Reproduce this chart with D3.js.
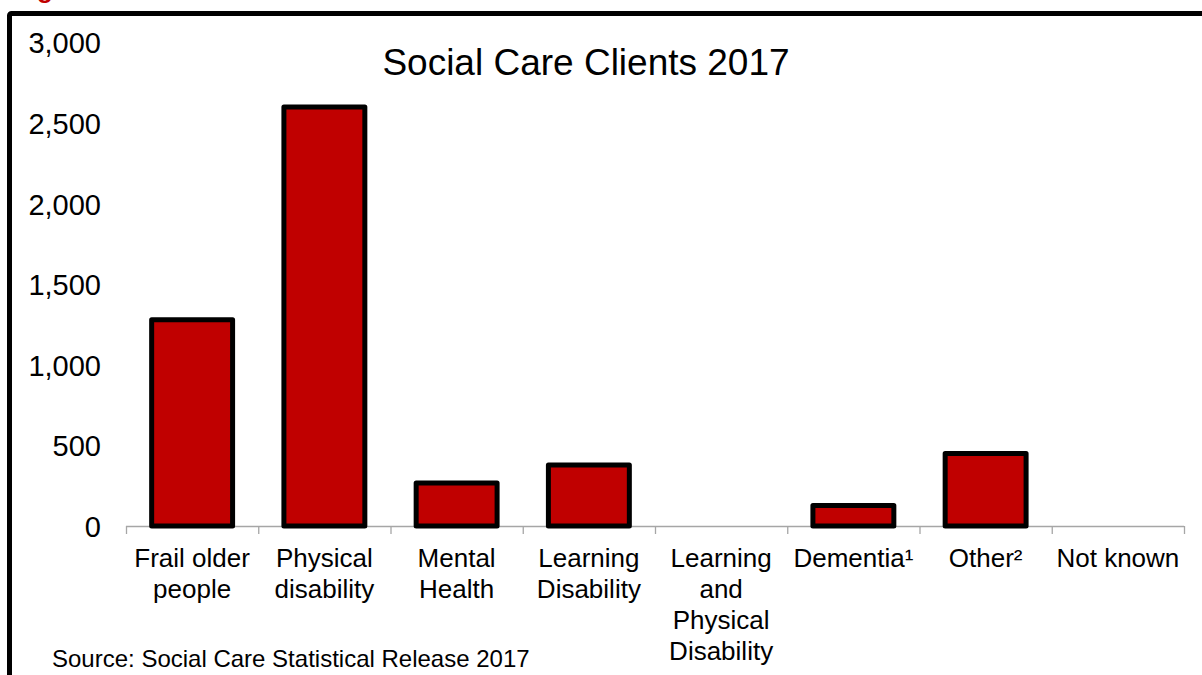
<!DOCTYPE html>
<html>
<head>
<meta charset="utf-8">
<script src="https://cdn.jsdelivr.net/npm/d3@7"></script>
<style>
  html, body { margin: 0; padding: 0; background: #fff; }
  svg { display: block; font-family: "Liberation Sans", Arial, sans-serif; }
</style>
</head>
<body>
<svg id="chart" width="1202" height="675"></svg>
<script>
// Clients by primary client group
const categories = [
  "Frail older people",
  "Physical disability",
  "Mental Health",
  "Learning Disability",
  "Learning and Physical Disability",
  "Dementia\u00B9",
  "Other\u00B2",
  "Not known"
];
const clients = [1280, 2600, 267, 378, 0, 127, 450, 0];
const yTicks = [0, 500, 1000, 1500, 2000, 2500, 3000];

// wrapped x labels
const labelLines = [
  ["Frail older", "people"],
  ["Physical", "disability"],
  ["Mental", "Health"],
  ["Learning", "Disability"],
  ["Learning", "and", "Physical", "Disability"],
  ["Dementia\u00B9"],
  ["Other\u00B2"],
  ["Not known"]
];

const svg = d3.select("#chart");

// frame around the figure (runs off the right and bottom edges)
svg.append("rect")
  .attr("x", 9.5).attr("y", 13.5)
  .attr("width", 1400).attr("height", 900)
  .attr("rx", 2)
  .attr("fill", "none")
  .attr("stroke", "#000")
  .attr("stroke-width", 5);

// figure caption above the frame
svg.append("text")
  .attr("x", 14).attr("y", -2)
  .attr("fill", "#c00000")
  .attr("font-weight", "bold")
  .attr("font-size", 26)
  .text("Figure 9");

const x = d3.scaleBand()
  .domain(categories)
  .range([126, 1184])
  .paddingInner(0.388)
  .paddingOuter(0.194);

const y = d3.scaleLinear()
  .domain([0, 3000])
  .range([526, 42.5]);

// y axis: labels only
const yAxis = svg.append("g")
  .attr("transform", "translate(101,0)")
  .call(d3.axisLeft(y).tickValues(yTicks).tickSize(0).tickPadding(0)
    .tickFormat(d3.format(",")));
yAxis.select(".domain").remove();
yAxis.selectAll("text")
  .attr("font-size", 29)
  .attr("font-family", "Liberation Sans, Arial, sans-serif")
  .attr("fill", "#000")
  .attr("dy", "0.36em");

// x axis: baseline plus tick marks on category boundaries
const xg = svg.append("g");
xg.append("line")
  .attr("x1", x.range()[0]).attr("x2", x.range()[1])
  .attr("y1", y(0) + 0.5).attr("y2", y(0) + 0.5)
  .attr("stroke", "#a6a6a6").attr("stroke-width", 1.3);
const bounds = categories.map(c => x(c) - x.step() * x.paddingOuter())
  .concat([x.range()[1]]);
xg.selectAll("line.tick")
  .data(bounds)
  .join("line")
  .attr("class", "tick")
  .attr("x1", d => d + 0.5).attr("x2", d => d + 0.5)
  .attr("y1", y(0)).attr("y2", y(0) + 8)
  .attr("stroke", "#a6a6a6").attr("stroke-width", 1.3);

// category labels
const lbl = svg.append("g")
  .selectAll("text")
  .data(categories)
  .join("text")
  .attr("x", d => x(d) + x.bandwidth() / 2)
  .attr("y", 567)
  .attr("text-anchor", "middle")
  .attr("font-size", 26)
  .attr("fill", "#000");
lbl.each(function(d, i) {
  d3.select(this).selectAll("tspan")
    .data(labelLines[i])
    .join("tspan")
    .attr("x", x(d) + x.bandwidth() / 2)
    .attr("dy", (t, j) => j === 0 ? 0 : 31)
    .text(t => t);
});

// bars
const data = categories.map((c, i) => ({ c, v: clients[i] })).filter(d => d.v > 0);
svg.append("g")
  .selectAll("rect")
  .data(data)
  .join("rect")
  .attr("x", d => x(d.c))
  .attr("y", d => y(d.v))
  .attr("width", x.bandwidth())
  .attr("height", d => y(0) - y(d.v))
  .attr("fill", "#c00000")
  .attr("stroke", "#000")
  .attr("stroke-width", 5)
  .attr("stroke-linejoin", "round");

// title
svg.append("text")
  .attr("x", 586).attr("y", 75)
  .attr("text-anchor", "middle")
  .attr("font-size", 37)
  .attr("fill", "#000")
  .text("Social Care Clients 2017");

// source note
svg.append("text")
  .attr("x", 52).attr("y", 667)
  .attr("font-size", 24)
  .attr("fill", "#000")
  .text("Source: Social Care Statistical Release 2017");
</script>
</body>
</html>
